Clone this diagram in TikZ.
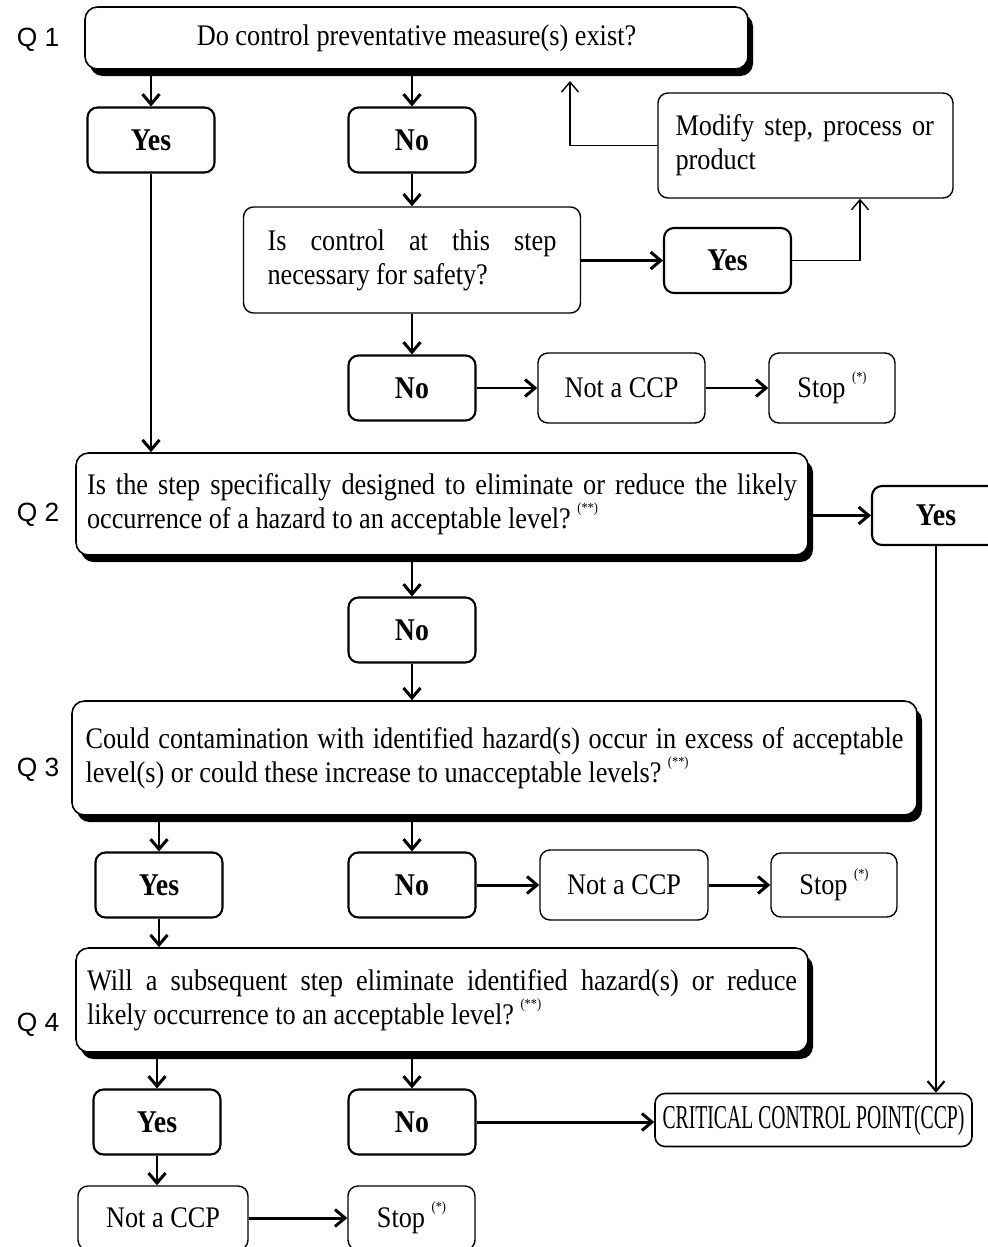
\documentclass[tikz,border=0pt]{standalone}
\usepackage{fontspec}
\setmainfont{Liberation Serif}[FakeStretch=0.88]
\setsansfont{Liberation Sans}
\usepackage{tikz}
\usetikzlibrary{arrows.meta, positioning, shadows}
\newcommand{\fnm}[1]{\ \raisebox{0.55em}{\fontsize{8}{8}\selectfont(#1)}}

\begin{document}
\begin{tikzpicture}[>={Straight Barb[length=2mm,width=3.4mm]},
  font=\fontsize{17}{19.5}\selectfont,
  question/.style={draw, line width=0.9pt, rounded corners=0.25cm, fill=white,
                   drop shadow={shadow xshift=0.1cm, shadow yshift=-0.14cm, fill=black, opacity=1}},
  answer/.style={draw, line width=1.2pt, rounded corners=0.2cm, minimum width=2.54cm,
                 minimum height=1.3cm, font=\fontsize{18}{19}\selectfont\bfseries},
  result/.style={draw, line width=0.8pt, rounded corners=0.2cm, minimum height=1.4cm},
  qlabel/.style={font=\fontsize{15}{17}\selectfont\sffamily},
  link/.style={->, line width=1.7pt},
  thinlink/.style={->, line width=0.8pt}]

  \useasboundingbox (0,0) rectangle (19.74,-24.94);

  % Q1
  \node[qlabel] (q1l) at (0.76,-0.8) {Q 1};
  \node[question, minimum width=13.26cm, minimum height=1.24cm] (q1) at (8.33,-0.76)
        {Do control preventative measure(s) exist?};
  \node[answer] (yes1) at (3.02,-2.8)  {Yes};
  \node[answer] (no1)  at (8.24,-2.8)  {No};
  \node[result, text width=5.78cm, align=justify, inner xsep=0.48cm, minimum height=2.12cm]
        (safe) at (8.24,-5.2) {Is control at this step\linebreak necessary for safety?};
  \node[answer] (yes2) at (14.55,-5.21) {Yes};
  \node[result, text width=5.2cm, align=left, inner xsep=0.35cm, minimum height=2.1cm]
        (mod) at (16.11,-2.91) {Modify step, process or\\product};
  \node[answer] (no2)  at (8.24,-7.76) {No};
  \node[result, minimum width=3.34cm] (nc1)   at (12.43,-7.76) {Not a CCP};
  \node[result, minimum width=2.52cm] (stop1) at (16.64,-7.76) {Stop\fnm{*}};

  % Q2
  \node[qlabel] (q2l) at (0.76,-10.3) {Q 2};
  \node[question, text width=14.2cm, align=justify, inner xsep=0.22cm, minimum height=2.04cm]
        (q2) at (8.84,-10.08)
        {Is the step specifically designed to eliminate or reduce the likely\linebreak
         occurrence of a hazard to an acceptable level?\fnm{**}};
  \node[answer, minimum width=2.56cm, minimum height=1.18cm] (yes3) at (18.72,-10.31) {Yes};
  \node[answer] (no3) at (8.24,-12.6) {No};

  % Q3
  \node[qlabel] (q3l) at (0.76,-15.4) {Q 3};
  \node[question, text width=16.36cm, align=justify, inner xsep=0.27cm, minimum height=2.28cm]
        (q3) at (9.89,-15.16)
        {Could contamination with identified hazard(s) occur in excess of acceptable\linebreak
         level(s) or could these increase to unacceptable levels?\fnm{**}};
  \node[answer] (yes4) at (3.18,-17.7) {Yes};
  \node[answer] (no4)  at (8.24,-17.7) {No};
  \node[result, minimum width=3.36cm] (nc2) at (12.48,-17.7) {Not a CCP};
  \node[result, minimum width=2.52cm, minimum height=1.28cm] (stop2) at (16.68,-17.7) {Stop\fnm{*}};

  % Q4
  \node[qlabel] (q4l) at (0.76,-20.5) {Q 4};
  \node[question, text width=14.2cm, align=justify, inner xsep=0.22cm, minimum height=2.08cm]
        (q4) at (8.84,-20.0)
        {Will a subsequent step eliminate identified hazard(s) or reduce\linebreak
         likely occurrence to an acceptable level?\fnm{**}};
  \node[answer] (yes5) at (3.14,-22.44) {Yes};
  \node[answer] (no5)  at (8.24,-22.44) {No};
  \node[draw, line width=0.9pt, rounded corners=0.2cm, minimum width=6.34cm, minimum height=1.06cm]
        (ccp) at (16.27,-22.4)
        {\scalebox{0.67}[1]{\fontsize{19}{19}\selectfont CRITICAL CONTROL POINT(CCP)}};
  \node[result, minimum width=3.4cm, minimum height=1.28cm]  (nc3)   at (3.26,-24.36) {Not a CCP};
  \node[result, minimum width=2.54cm, minimum height=1.28cm] (stop3) at (8.23,-24.36) {Stop\fnm{*}};

  % connectors
  \draw[link] (yes1 |- q1.south) -- (yes1);
  \draw[link] (no1 |- q1.south) -- (no1);
  \draw[link] (yes1) -- (yes1 |- q2.north);
  \draw[link] (no1) -- (safe);
  \draw[link] (safe.east |- yes2) -- (yes2);
  \draw[thinlink] (yes2.east) -| ([xshift=1.09cm]mod.south);
  \coordinate (ret) at (11.4,-1.62);
  \draw[thinlink] (mod.west) -| (ret);
  \draw[link] (safe) -- (no2);
  \draw[link] (no2) -- (nc1);
  \draw[link] (nc1) -- (stop1);

  \draw[link] (q2.east |- yes3) -- (yes3);
  \draw[link, line width=1.2pt] (yes3) -- (yes3 |- ccp.north);
  \draw[link] (no3 |- q2.south) -- (no3);
  \draw[link] (no3) -- (no3 |- q3.north);

  \draw[link] (yes4 |- q3.south) -- (yes4);
  \draw[link] (no4 |- q3.south) -- (no4);
  \draw[link] (no4) -- (nc2);
  \draw[link] (nc2) -- (stop2);
  \draw[link] (yes4) -- (yes4 |- q4.north);

  \draw[link] (yes5 |- q4.south) -- (yes5);
  \draw[link] (no5 |- q4.south) -- (no5);
  \draw[link] (no5) -- (no5 -| ccp.west);
  \draw[link] (yes5) -- (yes5 |- nc3.north);
  \draw[link] (nc3) -- (stop3);
\end{tikzpicture}
\end{document}
